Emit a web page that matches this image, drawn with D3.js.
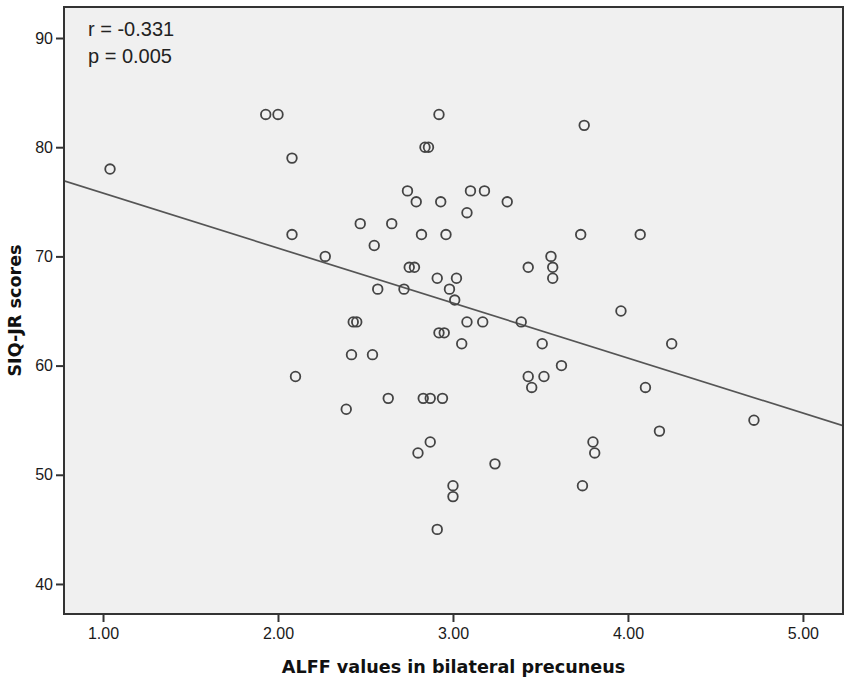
<!DOCTYPE html>
<html>
<head>
<meta charset="utf-8">
<script src="https://cdn.jsdelivr.net/npm/d3@7"></script>
<style>
  html, body { margin: 0; padding: 0; background: #fff; }
  svg { display: block; }
</style>
</head>
<body>
<svg id="chart" width="850" height="683"></svg>
<script>
// ALFF (x) vs SIQ-JR score (y), one entry per subject
const alff = [
  1.04, 1.93, 2.00, 2.08, 2.08, 2.10, 2.27, 2.39, 2.42, 2.43,
  2.45, 2.47, 2.54, 2.55, 2.57, 2.63, 2.65, 2.72, 2.74, 2.75,
  2.78, 2.79, 2.80, 2.82, 2.83, 2.84, 2.86, 2.87, 2.87, 2.91,
  2.91, 2.92, 2.93, 2.92, 2.95, 2.94, 2.96, 2.98, 3.00, 3.00,
  3.01, 3.02, 3.05, 3.08, 3.08, 3.10, 3.17, 3.18, 3.24, 3.31,
  3.39, 3.43, 3.43, 3.45, 3.51, 3.52, 3.56, 3.57, 3.57, 3.62,
  3.73, 3.74, 3.75, 3.80, 3.81, 3.96, 4.07, 4.10, 4.18, 4.25,
  4.72
];
const siq = [
  78, 83, 83, 79, 72, 59, 70, 56, 61, 64,
  64, 73, 61, 71, 67, 57, 73, 67, 76, 69,
  69, 75, 52, 72, 57, 80, 80, 57, 53, 68,
  45, 83, 75, 63, 63, 57, 72, 67, 49, 48,
  66, 68, 62, 64, 74, 76, 64, 76, 51, 75,
  64, 69, 59, 58, 62, 59, 70, 69, 68, 60,
  72, 49, 82, 53, 52, 65, 72, 58, 54, 62,
  55
];
const xTicks = [1, 2, 3, 4, 5];
const yTicks = [40, 50, 60, 70, 80, 90];
const statLines = ["r = -0.331", "p = 0.005"];

const svg = d3.select("#chart");
const plot = { left: 64, right: 843, top: 7, bottom: 614 };

const x = d3.scaleLinear().domain([0.777, 5.229]).range([plot.left, plot.right]);
const y = d3.scaleLinear().domain([37.25, 92.84]).range([plot.bottom, plot.top]);

// plot background
svg.append("rect")
  .attr("x", plot.left).attr("y", plot.top)
  .attr("width", plot.right - plot.left)
  .attr("height", plot.bottom - plot.top)
  .attr("fill", "#f0f0f0");

svg.append("clipPath").attr("id", "clip")
  .append("rect")
  .attr("x", plot.left).attr("y", plot.top)
  .attr("width", plot.right - plot.left)
  .attr("height", plot.bottom - plot.top);

// axes
const xAxis = svg.append("g")
  .attr("transform", `translate(0,${plot.bottom})`)
  .call(d3.axisBottom(x).tickValues(xTicks).tickFormat(d3.format(".2f")).tickSize(8).tickSizeOuter(0));
const yAxis = svg.append("g")
  .attr("transform", `translate(${plot.left},0)`)
  .call(d3.axisLeft(y).tickValues(yTicks).tickSize(8).tickSizeOuter(0));

[xAxis, yAxis].forEach(g => {
  g.select(".domain").remove();
  g.selectAll(".tick line").attr("stroke", "#333").attr("stroke-width", 2);
  g.selectAll(".tick text")
    .attr("fill", "#1a1a1a")
    .attr("font-family", "Liberation Sans, Arial, sans-serif")
    .attr("font-size", "16px");
});
xAxis.selectAll(".tick text").attr("dy", "0.95em").attr("y", 10);
yAxis.selectAll(".tick text").attr("x", -11);

// least-squares fit line
const mx = d3.mean(alff), my = d3.mean(siq);
let sxy = 0, sxx = 0;
alff.forEach((v, i) => { sxy += (v - mx) * (siq[i] - my); sxx += (v - mx) * (v - mx); });
const slope = sxy / sxx, intercept = my - slope * mx;
const [x0, x1] = x.domain();

svg.append("line")
  .attr("clip-path", "url(#clip)")
  .attr("x1", x(x0)).attr("y1", y(intercept + slope * x0))
  .attr("x2", x(x1)).attr("y2", y(intercept + slope * x1))
  .attr("stroke", "#555")
  .attr("stroke-width", 1.7);

// points
svg.append("g")
  .selectAll("circle")
  .data(alff.map((v, i) => [v, siq[i]]))
  .join("circle")
  .attr("cx", d => x(d[0]))
  .attr("cy", d => y(d[1]))
  .attr("r", 4.8)
  .attr("fill", "none")
  .attr("stroke", "#444")
  .attr("stroke-width", 1.8);

// frame
svg.append("rect")
  .attr("x", plot.left).attr("y", plot.top)
  .attr("width", plot.right - plot.left)
  .attr("height", plot.bottom - plot.top)
  .attr("fill", "none")
  .attr("stroke", "#333")
  .attr("stroke-width", 2);

// r / p annotation
svg.append("g")
  .selectAll("text")
  .data(statLines)
  .join("text")
  .attr("x", 88)
  .attr("y", (d, i) => 36 + i * 27)
  .attr("fill", "#222")
  .attr("font-family", "Liberation Sans, Arial, sans-serif")
  .attr("font-size", "20px")
  .text(d => d);

// axis titles
svg.append("text")
  .attr("x", (plot.left + plot.right) / 2)
  .attr("y", 673)
  .attr("text-anchor", "middle")
  .attr("font-family", "DejaVu Sans, Verdana, sans-serif")
  .attr("font-weight", "bold")
  .attr("font-size", "17.6px")
  .attr("fill", "#111")
  .text("ALFF values in bilateral precuneus");

svg.append("text")
  .attr("transform", `translate(21,${(plot.top + plot.bottom) / 2}) rotate(-90)`)
  .attr("text-anchor", "middle")
  .attr("font-family", "DejaVu Sans, Verdana, sans-serif")
  .attr("font-weight", "bold")
  .attr("font-size", "17.6px")
  .attr("fill", "#111")
  .text("SIQ-JR scores");
</script>
</body>
</html>
